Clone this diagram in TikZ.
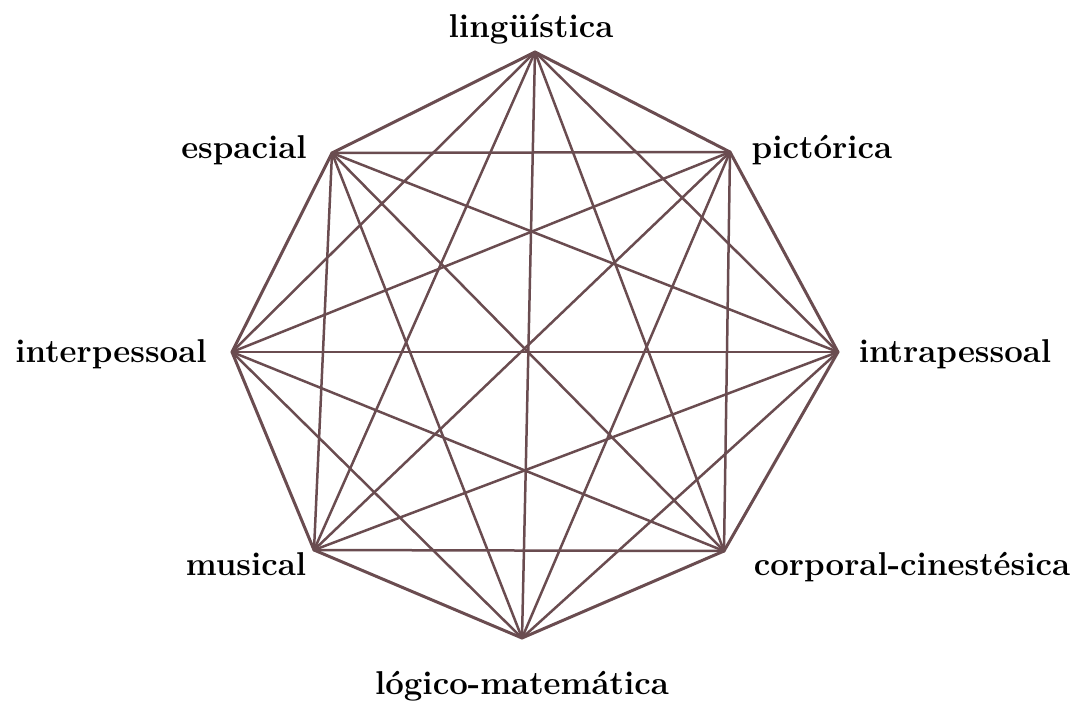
\documentclass[tikz,border=0pt]{standalone}
\begin{document}
\begin{tikzpicture}[x=1pt,y=-1pt,
  edge/.style={draw=linecol,line width=2.5pt,line cap=round},
  rim/.style={draw=linecol,line width=3pt,line join=round},
  lbl/.style={font=\fontsize{33}{33}\selectfont\bfseries,text=black,inner sep=0pt,anchor=base}]
\definecolor{linecol}{HTML}{6A4C50}
\useasboundingbox (0,0) rectangle (1078,702);
\coordinate (L) at (535,52);
\coordinate (P) at (730,152);
\coordinate (I) at (838,352);
\coordinate (C) at (724,551);
\coordinate (M) at (522,638);
\coordinate (Mu) at (314,550);
\coordinate (Ip) at (232,352);
\coordinate (E) at (332,153);
\foreach \a/\b in {L/I,L/C,L/M,L/Mu,L/Ip,P/C,P/M,P/Mu,P/Ip,P/E,I/M,I/Mu,I/Ip,I/E,C/Ip,C/E,C/Mu,M/Ip,M/E,Mu/E}
  \draw[edge] (\a) -- (\b);
\draw[rim] (L) -- (P) -- (I) -- (C) -- (M) -- (Mu) -- (Ip) -- (E) -- cycle;
\node[lbl] (tL) at (531,37) {lingüística};
\node[lbl] (tE) at (244,158) {espacial};
\node[lbl] (tP) at (822,158) {pictórica};
\node[lbl] (tIp) at (111,362) {interpessoal};
\node[lbl] (tI) at (955,362) {intrapessoal};
\node[lbl] (tMu) at (246,575) {musical};
\node[lbl] (tC) at (912,575) {corporal-cinestésica};
\node[lbl] (tM) at (522,694) {lógico-matemática};
\end{tikzpicture}
\end{document}
